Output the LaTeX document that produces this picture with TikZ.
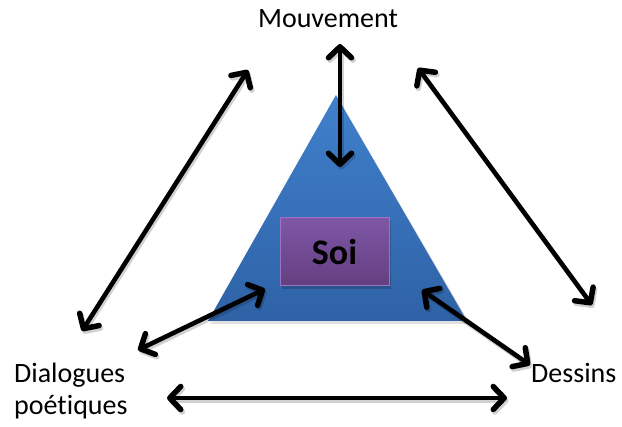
\documentclass[tikz,border=0pt]{standalone}
\usepackage{fontspec}
\setmainfont[Ligatures=NoCommon]{Carlito}
\usetikzlibrary{arrows.meta}
\definecolor{triTop}{HTML}{4080CC}
\definecolor{triBot}{HTML}{2E62A6}
\definecolor{soiTop}{HTML}{7E57A6}
\definecolor{soiBot}{HTML}{633F80}
\definecolor{soiEdge}{HTML}{9C72C4}
\tikzset{
  tipv/.tip={Straight Barb[length=11pt,width=23pt,line width=5.5pt,round]},
  dbl/.style={line width=4.6pt, tipv-tipv},
  dblshadow/.style={dbl, draw=black, opacity=0.18},
  lbl/.style={font=\fontsize{28}{32}\selectfont, inner sep=0pt, anchor=base},
}
\begin{document}
\begin{tikzpicture}[x=1pt,y=-1pt]
\useasboundingbox (0,0) rectangle (622,427);
% triangle shadow
\fill[black,opacity=0.12] (338,98) -- (210,324) -- (470,324) -- cycle;
\shade[top color=triTop, bottom color=triBot] (336,95) coordinate (apex) -- (208,321) -- (467,321) -- cycle;
% Soi box
\fill[black,opacity=0.18] (282,221) rectangle (391,289);
\node[draw=soiEdge, line width=1pt, top color=soiTop, bottom color=soiBot,
      minimum width=109pt, minimum height=68pt, inner sep=0pt,
      font=\bfseries\fontsize{36}{40}\selectfont] (soi) at (334.5,252) {Soi};
% labels
\node[lbl] (mouv) at (328,28) {Mouvement};
\node[lbl, anchor=base west] (dial) at (14,383) {Dialogues};
\node[lbl, anchor=base west] (poet) at (14,415) {poétiques};
\node[lbl, anchor=base west] (dess) at (531,383) {Dessins};
% arrow ends
\coordinate (a1) at (248,70);  \coordinate (b1) at (82,331);
\coordinate (a2) at (340,44);  \coordinate (b2) at (340,167);
\coordinate (a3) at (418,68);  \coordinate (b3) at (592,305);
\coordinate (a4) at (138,350); \coordinate (b4) at (265,289);
\coordinate (a5) at (422,290); \coordinate (b5) at (530,365);
\coordinate (a6) at (167,398); \coordinate (b6) at (507,398);
\foreach \i in {1,...,6}{
  \draw[dblshadow, transform canvas={xshift=1.5pt,yshift=-2.5pt}] (a\i) -- (b\i);
  \draw[dbl] (a\i) -- (b\i);}
\end{tikzpicture}
\end{document}
